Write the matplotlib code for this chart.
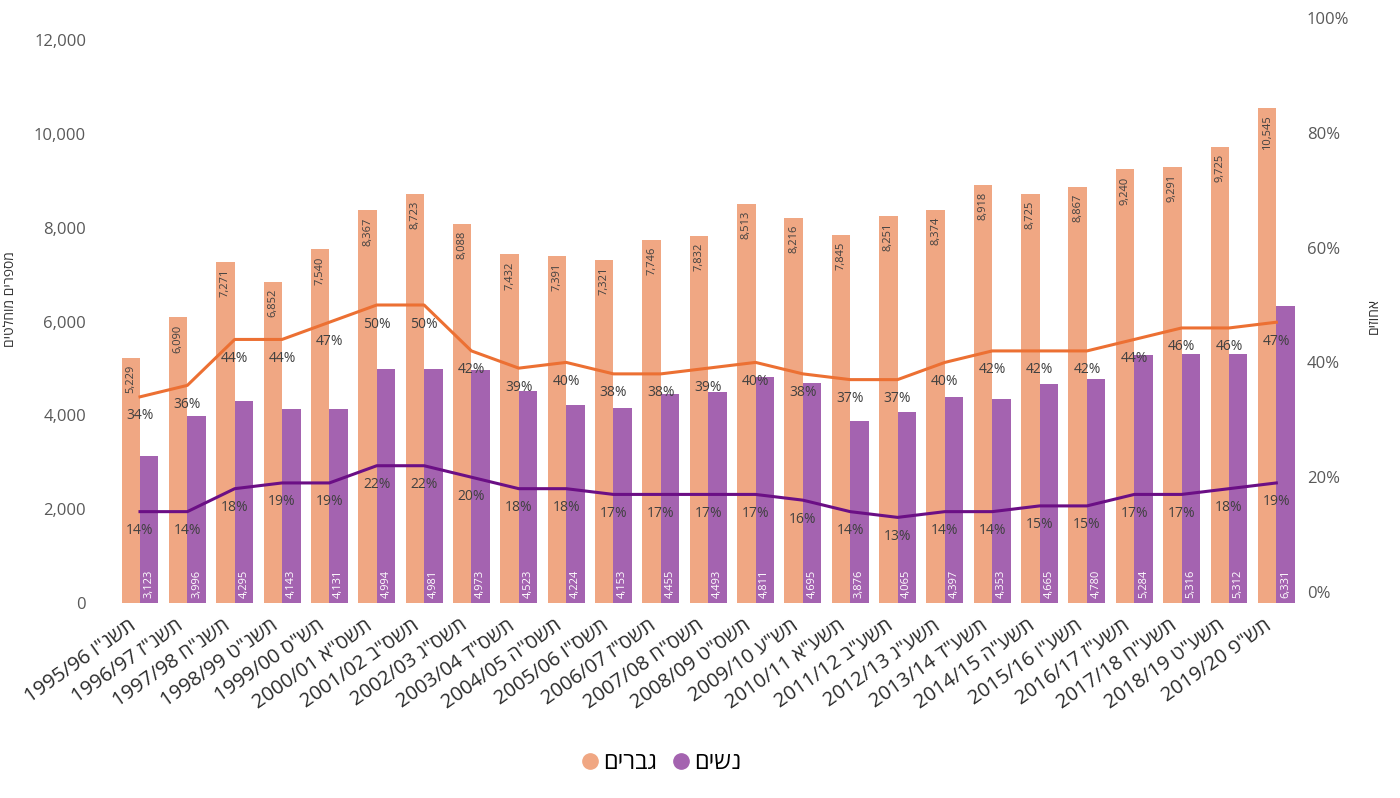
import matplotlib
matplotlib.use("Agg")
import matplotlib.pyplot as plt
from matplotlib.lines import Line2D
from matplotlib.ticker import FuncFormatter, FixedLocator
from matplotlib.transforms import ScaledTranslation

plt.rcParams['font.family'] = ['Open Sans', 'DejaVu Sans']

# ---------------- data ----------------
years = ["1995/96", "1996/97", "1997/98", "1998/99", "1999/00", "2000/01", "2001/02",
         "2002/03", "2003/04", "2004/05", "2005/06", "2006/07", "2007/08", "2008/09",
         "2009/10", "2010/11", "2011/12", "2012/13", "2013/14", "2014/15", "2015/16",
         "2016/17", "2017/18", "2018/19", "2019/20"]
heb_years = ['תשנ"ו', 'תשנ"ז', 'תשנ"ח', 'תשנ"ט', 'תש"ס', 'תשס"א', 'תשס"ב',
             'תשס"ג', 'תשס"ד', 'תשס"ה', 'תשס"ו', 'תשס"ז', 'תשס"ח', 'תשס"ט',
             'תש"ע', 'תשע"א', 'תשע"ב', 'תשע"ג', 'תשע"ד', 'תשע"ה', 'תשע"ו',
             'תשע"ז', 'תשע"ח', 'תשע"ט', 'תש"פ']
men = [5229, 6090, 7271, 6852, 7540, 8367, 8723, 8088, 7432, 7391, 7321, 7746, 7832,
       8513, 8216, 7845, 8251, 8374, 8918, 8725, 8867, 9240, 9291, 9725, 10545]
women = [3123, 3996, 4295, 4143, 4131, 4994, 4981, 4973, 4523, 4224, 4153, 4455, 4493,
         4811, 4695, 3876, 4065, 4397, 4353, 4665, 4780, 5284, 5316, 5312, 6331]
men_pct = [34, 36, 44, 44, 47, 50, 50, 42, 39, 40, 38, 38, 39, 40, 38, 37, 37, 40,
           42, 42, 42, 44, 46, 46, 47]
women_pct = [14, 14, 18, 19, 19, 22, 22, 20, 18, 18, 17, 17, 17, 17, 16, 14, 13, 14,
             14, 15, 15, 17, 17, 18, 19]
left_ticks = [0, 2000, 4000, 6000, 8000, 10000, 12000]
right_ticks = [0, 20, 40, 60, 80, 100]
label_men = "גברים"
label_women = "נשים"
ylabel_left = "מספרים מוחלטים"
ylabel_right = "אחוזים"


def vis(s):
    """Hebrew logical -> visual order (simple reversal)."""
    return s[::-1]


xlabels = [f"{y} {vis(h)}" for y, h in zip(years, heb_years)]

# ---------------- style ----------------
C_MEN = "#F0A783"
C_WOMEN = "#A463B0"
C_MEN_LINE = "#EC7033"
C_WOMEN_LINE = "#6B0F85"
TXT = "#404040"
TICK = "#595959"

W, H = 1400, 798
fig = plt.figure(figsize=(W / 100, H / 100), dpi=100)
fig.patch.set_facecolor("white")

ax_left_px, ax_right_px = 100, 1300
ax_bot_px, ax_top_px = 603, 18
ax_w_px = ax_right_px - ax_left_px
ax = fig.add_axes([ax_left_px / W, (H - ax_bot_px) / H,
                   ax_w_px / W, (ax_bot_px - ax_top_px) / H])

n = len(years)
x = list(range(n))
bw = 0.39
px_per_1000 = (603 - 40) / 12.0
ax.set_ylim(0, (ax_bot_px - ax_top_px) / px_per_1000 * 1000)
ax.set_xlim(-0.845, 24.5)

xm = [i - bw / 2 for i in x]
xw = [i + bw / 2 for i in x]
bars_m = ax.bar(xm, men, width=bw, color=C_MEN, zorder=2)
bars_w = ax.bar(xw, women, width=bw, color=C_WOMEN, zorder=2)

for b, v in zip(bars_m, men):
    ax.annotate(f"{v:,}", (b.get_x() + b.get_width() / 2, v), xytext=(0, -7),
                textcoords="offset pixels", rotation=90, ha="center", va="top",
                fontsize=8, color=TXT, zorder=4)
for b, v in zip(bars_w, women):
    ax.annotate(f"{v:,}", (b.get_x() + b.get_width() / 2, 0), xytext=(0, 5),
                textcoords="offset pixels", rotation=90, ha="center", va="bottom",
                fontsize=8, color="white", zorder=4)

for s in ax.spines.values():
    s.set_visible(False)
ax.yaxis.set_major_locator(FixedLocator(left_ticks))
ax.yaxis.set_major_formatter(FuncFormatter(lambda v, p: f"{int(v):,}"))
ax.tick_params(axis="y", length=0, pad=10, labelsize=12, labelcolor=TICK)
ax.set_xticks(x)
ax.set_xticklabels(xlabels, rotation=35, ha="right", va="top",
                   rotation_mode="anchor", fontsize=14.5, color="#2b2b2b")
ax.tick_params(axis="x", length=0, pad=9)
shift = ScaledTranslation(-12 / 100, 0, fig.dpi_scale_trans)
for lbl in ax.get_xticklabels():
    lbl.set_transform(lbl.get_transform() + shift)
ax.set_ylabel(vis(ylabel_left), fontsize=10, color="#333333")
ax.yaxis.set_label_coords((18 - ax_left_px) / ax_w_px, 0.52)

# right axis
ax2 = ax.twinx()
pct_px = (592 - 18) / 100.0
ax2.set_ylim(-(ax_bot_px - 592) / pct_px, 100)
for s in ax2.spines.values():
    s.set_visible(False)
ax2.yaxis.set_major_locator(FixedLocator(right_ticks))
ax2.yaxis.set_major_formatter(FuncFormatter(lambda v, p: f"{int(v)}%"))
ax2.tick_params(axis="y", length=0, pad=5, labelsize=12, labelcolor=TICK)
ax2.set_ylabel(vis(ylabel_right), fontsize=10, color="#333333")
ax2.yaxis.set_label_coords((1367 - ax_left_px) / ax_w_px, 0.49)

ax2.plot(x, men_pct, color=C_MEN_LINE, lw=2.2, zorder=3)
ax2.plot(x, women_pct, color=C_WOMEN_LINE, lw=2.2, zorder=3)
for i in x:
    ax2.annotate(f"{men_pct[i]}%", (i, men_pct[i]), xytext=(0, -19),
                 textcoords="offset pixels", ha="center", va="center",
                 fontsize=10, color=TXT, zorder=5)
    ax2.annotate(f"{women_pct[i]}%", (i, women_pct[i]), xytext=(0, -19),
                 textcoords="offset pixels", ha="center", va="center",
                 fontsize=10, color=TXT, zorder=5)

handles = [Line2D([], [], marker="o", ls="", ms=11, color=C_MEN),
           Line2D([], [], marker="o", ls="", ms=11, color=C_WOMEN)]
fig.legend(handles, [vis(label_men), vis(label_women)], loc="center",
           bbox_to_anchor=(660 / W, (H - 763) / H), ncol=2, frameon=False,
           fontsize=17, handletextpad=0.05, columnspacing=0.5, handlelength=1.0)

fig.savefig("out.png", dpi=100, facecolor="white")
